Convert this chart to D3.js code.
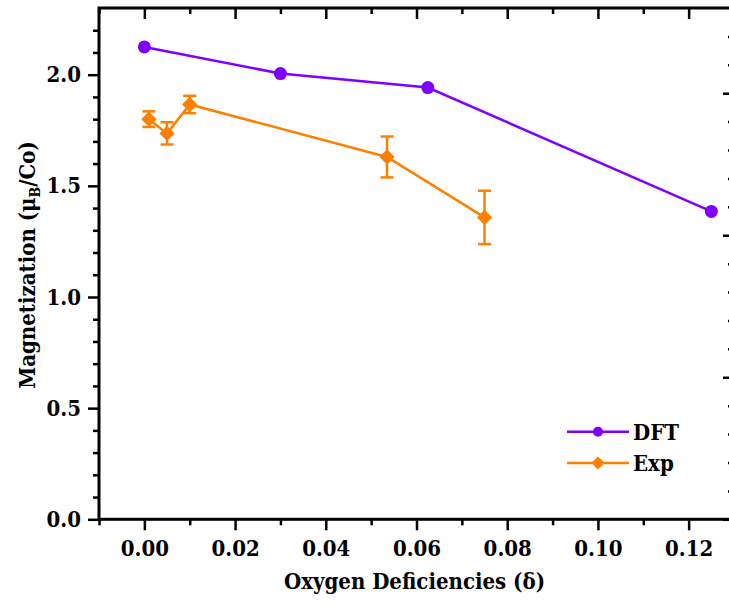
<!DOCTYPE html>
<html>
<head>
<meta charset="utf-8">
<script src="https://cdn.jsdelivr.net/npm/d3@7"></script>
<style>
  html, body { margin: 0; padding: 0; background: #fff; }
  svg { display: block; }
</style>
</head>
<body>
<svg id="chart" width="729" height="608"></svg>
<script>
// Oxygen deficiency (δ) and magnetization (μB/Co)
const dftDelta = [0.0, 0.03, 0.0625, 0.125];
const dftMag   = [2.125, 2.005, 1.942, 1.385];

const expDelta = [0.001, 0.005, 0.01, 0.0535, 0.075];
const expMag   = [1.800, 1.736, 1.866, 1.630, 1.358];
const expErr   = [0.035, 0.050, 0.039, 0.092, 0.120];

const xMajorTicks = [0.00, 0.02, 0.04, 0.06, 0.08, 0.10, 0.12];
const xMinorTicks = [-0.01, 0.01, 0.03, 0.05, 0.07, 0.09, 0.11, 0.13];
const yMajorTicks = [0.0, 0.5, 1.0, 1.5, 2.0];
const yMinorTicks = [0.1, 0.2, 0.3, 0.4, 0.6, 0.7, 0.8, 0.9, 1.1, 1.2, 1.3, 1.4, 1.6, 1.7, 1.8, 1.9, 2.1, 2.2];
const rMajorTicks = [0, 1, 2, 3];
const rMinorTicks = [0.2, 0.4, 0.6, 0.8, 1.2, 1.4, 1.6, 1.8, 2.2, 2.4, 2.6, 2.8, 3.2, 3.4];

const seriesNames = ["DFT", "Exp"];
const seriesColors = ["#7f00ff", "#ff8000"];

// Prefer the condensed serif face when it is installed; size chosen to keep text widths
function hasFont(name) {
  const ctx = document.createElement("canvas").getContext("2d");
  const sample = "Magnetization 0.123 Oxygen";
  ctx.font = "bold 40px monospace";
  const base = ctx.measureText(sample).width;
  ctx.font = `bold 40px "${name}", monospace`;
  return Math.abs(ctx.measureText(sample).width - base) > 0.5;
}
const condensed = hasFont("DejaVu Serif Condensed");
const FONT = condensed ? '"DejaVu Serif Condensed", "DejaVu Serif", serif' : '"DejaVu Serif", serif';
const FS = condensed ? 22 : 20;

const svg = d3.select("#chart");
const plotL = 99, plotR = 734, plotT = 8, plotB = 519.3;

const x = d3.scaleLinear().domain([-0.01, 0.13]).range([plotL, plotR]);
const y = d3.scaleLinear().domain([0, 2.3]).range([plotB, plotT]);
const yR = d3.scaleLinear().domain([0, 3.6]).range([plotB, plotT]);

const fmt2 = d3.format(".2f"), fmt1 = d3.format(".1f");

function styleAxis(g, width) {
  g.select(".domain").remove();
  g.selectAll(".tick line").attr("stroke", "#000").attr("stroke-width", width);
}
function styleLabels(g) {
  g.attr("font-family", FONT).attr("font-size", FS).attr("font-weight", "bold");
  g.selectAll("text").attr("fill", "#000");
}

// Bottom axis
const gxMinor = svg.append("g").attr("transform", `translate(0,${plotB})`)
  .call(d3.axisBottom(x).tickValues(xMinorTicks).tickSize(6).tickFormat(""));
styleAxis(gxMinor, 2.5);
const gx = svg.append("g").attr("transform", `translate(0,${plotB})`)
  .call(d3.axisBottom(x).tickValues(xMajorTicks).tickSize(11).tickPadding(10).tickFormat(fmt2));
styleAxis(gx, 2.5);
styleLabels(gx);

// Top axis (ticks pointing inward)
const gtMinor = svg.append("g").attr("transform", `translate(0,${plotT})`)
  .call(d3.axisTop(x).tickValues(xMinorTicks).tickSize(-6).tickFormat(""));
styleAxis(gtMinor, 2.5);
const gt = svg.append("g").attr("transform", `translate(0,${plotT})`)
  .call(d3.axisTop(x).tickValues(xMajorTicks).tickSize(-11).tickFormat(""));
styleAxis(gt, 2.5);

// Left axis
const gyMinor = svg.append("g").attr("transform", `translate(${plotL},0)`)
  .call(d3.axisLeft(y).tickValues(yMinorTicks).tickSize(6).tickFormat(""));
styleAxis(gyMinor, 2.5);
const gy = svg.append("g").attr("transform", `translate(${plotL},0)`)
  .call(d3.axisLeft(y).tickValues(yMajorTicks).tickSize(11).tickPadding(7).tickFormat(fmt1));
styleAxis(gy, 2.5);
styleLabels(gy);

// Right axis (ticks pointing inward)
const grMinor = svg.append("g").attr("transform", `translate(${plotR},0)`)
  .call(d3.axisRight(yR).tickValues(rMinorTicks).tickSize(-6).tickFormat(""));
styleAxis(grMinor, 2.5);
const gr = svg.append("g").attr("transform", `translate(${plotR},0)`)
  .call(d3.axisRight(yR).tickValues(rMajorTicks).tickSize(-11).tickFormat(""));
styleAxis(gr, 2.5);

// Frame
svg.append("rect")
  .attr("x", plotL).attr("y", plotT)
  .attr("width", plotR - plotL).attr("height", plotB - plotT)
  .attr("fill", "none").attr("stroke", "#000").attr("stroke-width", 3);

// Axis titles
svg.append("text")
  .attr("x", (283 + 546) / 2).attr("y", 589)
  .attr("text-anchor", "middle")
  .attr("font-family", FONT).attr("font-weight", "bold").attr("font-size", FS)
  .text("Oxygen Deficiencies (δ)");

const yt = svg.append("text")
  .attr("transform", `translate(35,${265}) rotate(-90)`)
  .attr("text-anchor", "middle")
  .attr("font-family", FONT).attr("font-weight", "bold").attr("font-size", FS);
yt.append("tspan").text("Magnetization (μ");
yt.append("tspan").attr("font-size", Math.round(FS * 0.65)).attr("dy", 5).text("B");
yt.append("tspan").attr("dy", -5).text("/Co)");

// DFT series
const dftPts = dftDelta.map((d, i) => [d, dftMag[i]]);
const line = d3.line().x(d => x(d[0])).y(d => y(d[1]));
svg.append("path").datum(dftPts).attr("d", line)
  .attr("fill", "none").attr("stroke", seriesColors[0]).attr("stroke-width", 2.5);
svg.selectAll(".dft").data(dftPts).enter().append("circle")
  .attr("cx", d => x(d[0])).attr("cy", d => y(d[1])).attr("r", 6.5)
  .attr("fill", seriesColors[0]);

// Experimental series with error bars
const expPts = expDelta.map((d, i) => [d, expMag[i], expErr[i]]);
svg.append("path").datum(expPts).attr("d", line)
  .attr("fill", "none").attr("stroke", seriesColors[1]).attr("stroke-width", 2.5);
const eb = svg.append("g").attr("stroke", seriesColors[1]).attr("stroke-width", 2.5);
expPts.forEach(d => {
  const cx = x(d[0]), y0 = y(d[1] - d[2]), y1 = y(d[1] + d[2]);
  eb.append("line").attr("x1", cx).attr("x2", cx).attr("y1", y0).attr("y2", y1);
  eb.append("line").attr("x1", cx - 6.5).attr("x2", cx + 6.5).attr("y1", y0).attr("y2", y0);
  eb.append("line").attr("x1", cx - 6.5).attr("x2", cx + 6.5).attr("y1", y1).attr("y2", y1);
});
const diamond = d3.symbol().type(d3.symbolDiamond2).size(150);
svg.selectAll(".exp").data(expPts).enter().append("path")
  .attr("d", diamond)
  .attr("transform", d => `translate(${x(d[0])},${y(d[1])})`)
  .attr("fill", seriesColors[1]);

// Legend
const legY = [431.7, 463];
const legend = svg.append("g");
seriesNames.forEach((name, i) => {
  const g = legend.append("g").attr("transform", `translate(0,${legY[i]})`);
  g.append("line").attr("x1", 567).attr("x2", 629).attr("y1", 0).attr("y2", 0)
    .attr("stroke", seriesColors[i]).attr("stroke-width", 2.5);
  if (i === 0) {
    g.append("circle").attr("cx", 598).attr("cy", 0).attr("r", 5).attr("fill", seriesColors[i]);
  } else {
    g.append("path").attr("d", d3.symbol().type(d3.symbolDiamond2).size(110))
      .attr("transform", "translate(598,0)").attr("fill", seriesColors[i]);
  }
  g.append("text").attr("x", 633).attr("y", 8)
    .attr("font-family", FONT).attr("font-weight", "bold").attr("font-size", FS)
    .text(name);
});
</script>
</body>
</html>
